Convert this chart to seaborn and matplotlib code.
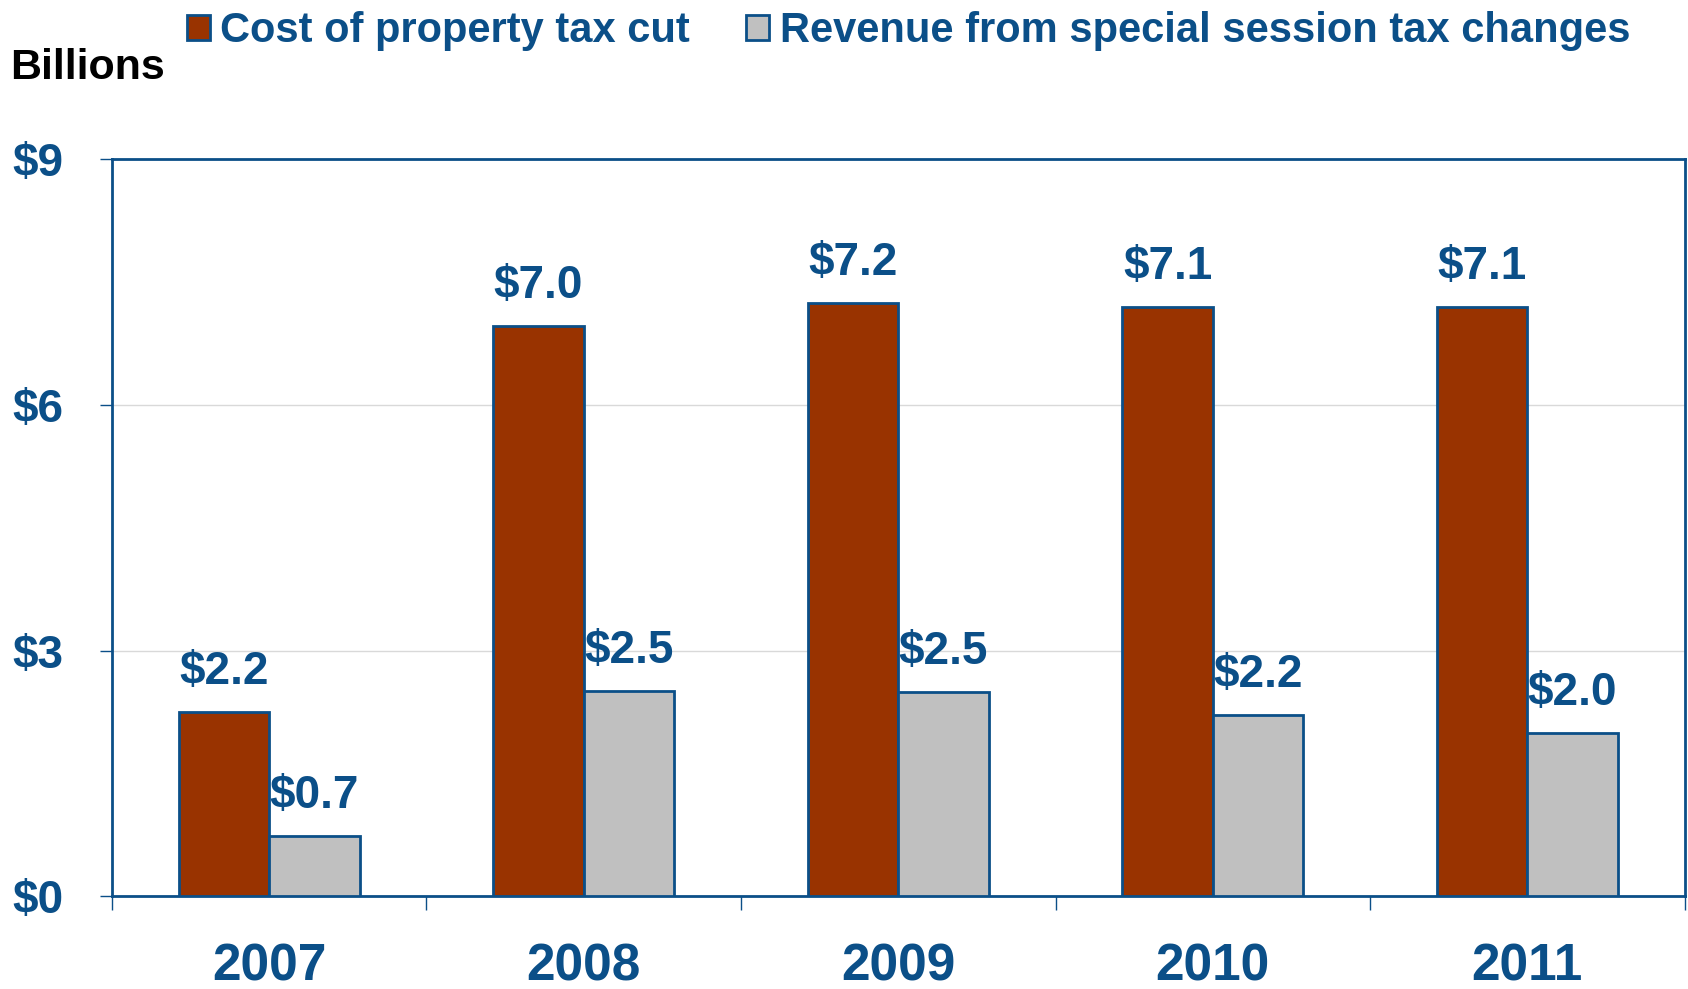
import pandas as pd
import matplotlib
matplotlib.use("Agg")
import matplotlib.pyplot as plt
import seaborn as sns

# data (billions of dollars)
years = ["2007", "2008", "2009", "2010", "2011"]
cost_of_cut = [2.25, 6.96, 7.24, 7.20, 7.20]
session_revenue = [0.74, 2.51, 2.50, 2.21, 2.00]
cost_labels = ["$2.2", "$7.0", "$7.2", "$7.1", "$7.1"]
revenue_labels = ["$0.7", "$2.5", "$2.5", "$2.2", "$2.0"]
series_names = ["Cost of property tax cut", "Revenue from special session tax changes"]
y_ticks = [0, 3, 6, 9]
y_tick_labels = ["$0", "$3", "$6", "$9"]

blue = "#0B4F88"
red = "#993300"
gray = "#C0C0C0"

df = pd.DataFrame({
    "year": years * 2,
    "value": cost_of_cut + session_revenue,
    "series": [series_names[0]] * len(years) + [series_names[1]] * len(years),
})

sns.set_style("white")
plt.rcParams["font.family"] = ["Liberation Sans", "DejaVu Sans"]
plt.rcParams["font.weight"] = "bold"

fig = plt.figure(figsize=(16.88, 9.89), dpi=100)
ax = fig.add_axes([0.0663, 0.0936, 0.9317, 0.7454])

sns.barplot(
    data=df, x="year", y="value", hue="series",
    palette=[red, gray], saturation=1, width=0.575, gap=0,
    edgecolor=blue, linewidth=2, ax=ax, legend=False, zorder=3,
)

# value labels
for cont, labs in zip(ax.containers, [cost_labels, revenue_labels]):
    ax.bar_label(cont, labels=labs, padding=13, fontsize=33, color=blue,
                 fontweight="bold")

ax.set_xlim(-0.5, len(years) - 0.5)
ax.set_ylim(0, 9)
ax.set_yticks(y_ticks)
ax.set_yticklabels(y_tick_labels)
ax.set_xlabel("")
ax.set_ylabel("")

# gridlines at $3 and $6
ax.grid(axis="y", color="#D9D9D9", linewidth=1, zorder=0)
ax.grid(axis="x", visible=False)

for s in ax.spines.values():
    s.set_visible(True)
    s.set_color(blue)
    s.set_linewidth(2)

ax.tick_params(axis="y", which="major", left=True, length=9, width=1,
               color=blue, pad=26, labelsize=33, labelcolor=blue)
ax.tick_params(axis="x", which="major", bottom=False, length=0, pad=33,
               labelsize=37, labelcolor=blue)
# tick marks between the year groups
ax.set_xticks([i - 0.5 for i in range(len(years) + 1)], minor=True)
ax.tick_params(axis="x", which="minor", bottom=True, length=10, width=1,
               color=blue, direction="out")
for lab in ax.get_xticklabels() + ax.get_yticklabels():
    lab.set_fontweight("bold")

# legend
handles = [
    plt.Rectangle((0, 0), 1, 1, facecolor=red, edgecolor=blue, linewidth=2),
    plt.Rectangle((0, 0), 1, 1, facecolor=gray, edgecolor=blue, linewidth=2),
]
leg = fig.legend(
    handles, series_names, loc="upper left", bbox_to_anchor=(0.096, 1.014),
    ncol=2, frameon=False, handlelength=0.55, handleheight=0.55,
    handletextpad=0.25, columnspacing=1.35, borderpad=0.1,
    prop={"weight": "bold", "size": 30},
)
for t in leg.get_texts():
    t.set_color(blue)

fig.text(0.006, 0.931, "Billions", fontsize=31, fontweight="bold",
         color="black", va="center", ha="left")

fig.savefig("out.png", dpi=100)
